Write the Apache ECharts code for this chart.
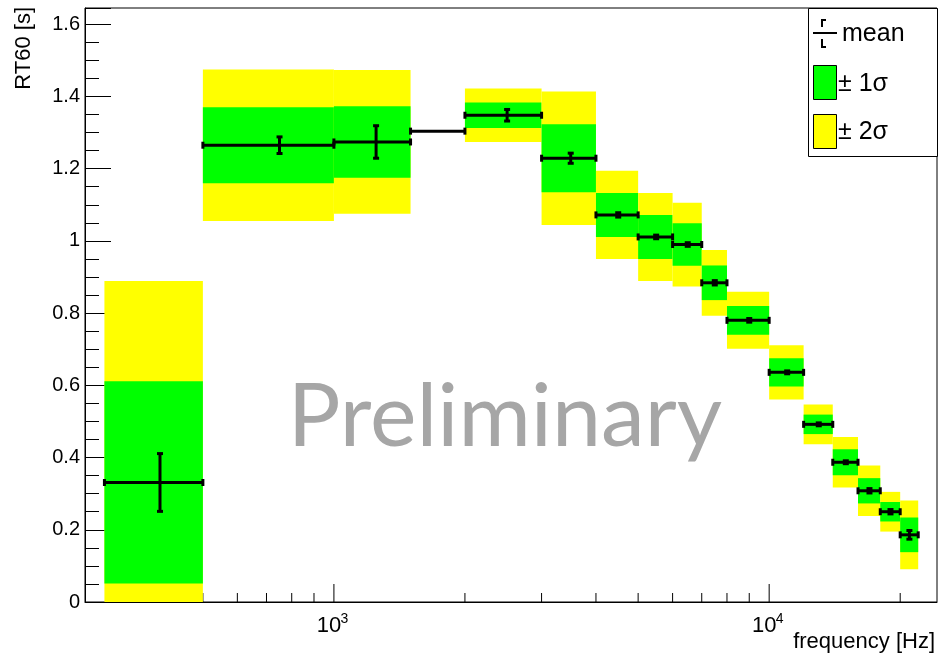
<!DOCTYPE html>
<html>
<head>
<meta charset="utf-8">
<script src="https://cdn.jsdelivr.net/npm/echarts@6/dist/echarts.min.js"></script>
<style>
  html, body { margin: 0; padding: 0; background: #ffffff; }
  #chart { width: 941px; height: 656px; }
</style>
</head>
<body>
<div id="chart"></div>
<script>
// Frequency bands (Hz): lower and upper edge of each band
const binLow  = [297, 500, 1000, 1500, 2000, 3000, 4000, 5000, 6000, 7000, 8000, 10000, 12000, 14000, 16000, 18000, 20000];
const binHigh = [500, 1000, 1500, 2000, 3000, 4000, 5000, 6000, 7000, 8000, 10000, 12000, 14000, 16000, 18000, 20000, 22000];
// Mean reverberation time per band (s), error on the mean, and the 1σ / 2σ spread
const rtMean = [0.331, 1.265, 1.274, 1.304, 1.348, 1.229, 1.072, 1.011, 0.990, 0.884, 0.780, 0.636, 0.492, 0.387, 0.308, 0.250, 0.186];
const rtErr  = [0.080, 0.023, 0.045, 0.000, 0.016, 0.014, 0.006, 0.005, 0.005, 0.006, 0.005, 0.004, 0.004, 0.004, 0.006, 0.006, 0.012];
const sigma1 = [0.280, 0.105, 0.099, 0.000, 0.035, 0.094, 0.061, 0.061, 0.059, 0.048, 0.040, 0.039, 0.027, 0.036, 0.035, 0.027, 0.048];
const sigma2 = [0.558, 0.210, 0.199, 0.000, 0.074, 0.185, 0.122, 0.122, 0.116, 0.091, 0.079, 0.075, 0.055, 0.070, 0.070, 0.055, 0.095];

// Axis ticks and labels
const xMajorTicks = [1000, 10000];
const xMajorBase = ['10', '10'];
const xMajorExp = ['3', '4'];
const xMinorTicks = [300, 400, 500, 600, 700, 800, 900, 2000, 3000, 4000, 5000, 6000, 7000, 8000, 9000, 20000];
const yTickLabels = ['0', '0.2', '0.4', '0.6', '0.8', '1', '1.2', '1.4', '1.6'];

const FONT = '"Liberation Sans", Arial, Helvetica, sans-serif';
const YELLOW = '#ffff00';
const GREEN = '#00ff00';

const bandRows = binLow.map((lo, i) => [lo, binHigh[i], rtMean[i], sigma1[i], sigma2[i]]);
const errRows = binLow.map((lo, i) => [lo, binHigh[i], rtMean[i], rtErr[i]]);

const chart = echarts.init(document.getElementById('chart'), null, { renderer: 'canvas' });

function rectBetween(api, x0, y0, x1, y1, fill) {
  const a = api.coord([x0, y0]);
  const b = api.coord([x1, y1]);
  return {
    type: 'rect',
    shape: { x: a[0], y: a[1], width: b[0] - a[0], height: b[1] - a[1] },
    style: { fill: fill, stroke: null }
  };
}

function renderBands(params, api) {
  const lo = api.value(0), hi = api.value(1), m = api.value(2), s1 = api.value(3), s2 = api.value(4);
  if (!(s2 > 0)) return null;
  return {
    type: 'group',
    children: [
      rectBetween(api, lo, m + s2, hi, m - s2, YELLOW),
      rectBetween(api, lo, m + s1, hi, m - s1, GREEN)
    ]
  };
}

function renderErrors(params, api) {
  const lo = api.value(0), hi = api.value(1), m = api.value(2), e = api.value(3);
  const c = (lo + hi) / 2;
  const pl = api.coord([lo, m]);
  const pr = api.coord([hi, m]);
  const ink = { stroke: '#000', lineWidth: 3 };
  const children = [
    { type: 'line', shape: { x1: pl[0], y1: pl[1], x2: pr[0], y2: pr[1] }, style: ink },
    { type: 'rect', shape: { x: pl[0] - 1.5, y: pl[1] - 3.5, width: 3, height: 7 }, style: { fill: '#000' } },
    { type: 'rect', shape: { x: pr[0] - 1.5, y: pr[1] - 3.5, width: 3, height: 7 }, style: { fill: '#000' } }
  ];
  if (e > 0) {
    const pt = api.coord([c, m + e]);
    const pb = api.coord([c, m - e]);
    children.push(
      { type: 'line', shape: { x1: pt[0], y1: pt[1], x2: pb[0], y2: pb[1] }, style: ink },
      { type: 'rect', shape: { x: pt[0] - 3, y: pt[1] - 1.5, width: 6, height: 3 }, style: { fill: '#000' } },
      { type: 'rect', shape: { x: pb[0] - 3, y: pb[1] - 1.5, width: 6, height: 3 }, style: { fill: '#000' } }
    );
  }
  return { type: 'group', children: children };
}

function renderMinorTick(params, api) {
  const p = api.coord([api.value(0), 0]);
  return { type: 'line', shape: { x1: p[0], y1: p[1], x2: p[0], y2: p[1] - 9 }, style: { stroke: '#000', lineWidth: 1 } };
}

function renderMajorTick(params, api) {
  const i = params.dataIndex;
  const p = api.coord([api.value(0), 0]);
  return {
    type: 'group',
    children: [
      { type: 'line', shape: { x1: p[0], y1: p[1], x2: p[0], y2: p[1] - 18 }, style: { stroke: '#000', lineWidth: 1 } },
      { type: 'text', x: p[0] - 5, y: p[1] + 13,
        style: { text: xMajorBase[i], font: '22px ' + FONT, fill: '#000', align: 'center', verticalAlign: 'top' } },
      { type: 'text', x: p[0] + 6.5, y: p[1] + 10,
        style: { text: xMajorExp[i], font: '14px ' + FONT, fill: '#000', align: 'left', verticalAlign: 'top' } }
    ]
  };
}

const option = {
  animation: false,
  backgroundColor: '#ffffff',
  grid: {
    left: 85, right: 4, top: 8, bottom: 54,
    show: true, borderColor: '#000', borderWidth: 1, backgroundColor: '#ffffff'
  },
  xAxis: {
    type: 'log', logBase: 10, min: 268, max: 24300,
    axisLine: { show: true, lineStyle: { color: '#000', width: 1 } },
    axisTick: { show: false },
    axisLabel: { show: false },
    splitLine: { show: false },
    minorTick: { show: false }
  },
  yAxis: {
    type: 'value', min: 0, max: 1.645, interval: 0.2,
    axisLine: { show: true, lineStyle: { color: '#000', width: 1 } },
    axisTick: { show: true, inside: true, length: 26, lineStyle: { color: '#000', width: 1 } },
    minorTick: { show: true, splitNumber: 4, length: 14, lineStyle: { color: '#000', width: 1 } },
    splitLine: { show: false },
    axisLabel: {
      color: '#000', fontSize: 20, fontFamily: FONT, margin: 5, showMaxLabel: false,
      formatter: v => yTickLabels[Math.round(v / 0.2)] !== undefined ? yTickLabels[Math.round(v / 0.2)] : ''
    }
  },
  series: [
    { type: 'custom', name: 'minor ticks', z: 1, clip: false, renderItem: renderMinorTick,
      data: xMinorTicks.map(v => [v]), encode: { x: 0 }, silent: true },
    { type: 'custom', name: 'major ticks', z: 1, clip: false, renderItem: renderMajorTick,
      data: xMajorTicks.map(v => [v]), encode: { x: 0 }, silent: true },
    { type: 'custom', name: '± σ', z: 2, clip: true, renderItem: renderBands,
      data: bandRows, encode: { x: [0, 1], y: [2] }, silent: true },
    { type: 'custom', name: 'mean', z: 3, clip: false, renderItem: renderErrors,
      data: errRows, encode: { x: [0, 1], y: [2] }, silent: true }
  ],
  graphic: [
    // Watermark
    { type: 'text', x: 505, y: 418, z: 50, silent: true,
      style: { text: 'Preliminary', font: '88px Lato, "Open Sans", sans-serif', fill: '#a6a6a6',
               align: 'center', verticalAlign: 'middle' } },
    // Axis titles
    { type: 'text', x: 24, y: 7, rotation: Math.PI / 2, z: 50, silent: true,
      style: { text: 'RT60 [s]', font: '22px ' + FONT, fill: '#000', align: 'right', verticalAlign: 'middle' } },
    { type: 'text', x: 935, y: 642, z: 50, silent: true,
      style: { text: 'frequency [Hz]', font: '22px ' + FONT, fill: '#000', align: 'right', verticalAlign: 'middle' } },
    // Legend box
    { type: 'group', z: 100, silent: true, children: [
      { type: 'rect', shape: { x: 808.5, y: 8.5, width: 129, height: 148 },
        style: { fill: '#ffffff', stroke: '#000', lineWidth: 1 } },
      // mean marker
      { type: 'line', shape: { x1: 813, y1: 33, x2: 837, y2: 33 }, style: { stroke: '#000', lineWidth: 2 } },
      { type: 'line', shape: { x1: 822, y1: 19, x2: 822, y2: 27 }, style: { stroke: '#000', lineWidth: 2 } },
      { type: 'line', shape: { x1: 822, y1: 20, x2: 826, y2: 20 }, style: { stroke: '#000', lineWidth: 2 } },
      { type: 'line', shape: { x1: 822, y1: 39, x2: 822, y2: 48 }, style: { stroke: '#000', lineWidth: 2 } },
      { type: 'line', shape: { x1: 822, y1: 47, x2: 826, y2: 47 }, style: { stroke: '#000', lineWidth: 2 } },
      { type: 'text', x: 842, y: 34, style: { text: 'mean', font: '25px ' + FONT, fill: '#000', align: 'left', verticalAlign: 'middle' } },
      // 1 sigma swatch
      { type: 'rect', shape: { x: 813.5, y: 65.5, width: 23, height: 34 }, style: { fill: GREEN, stroke: '#000', lineWidth: 1 } },
      { type: 'text', x: 838, y: 84, style: { text: '± 1σ', font: '25px ' + FONT, fill: '#000', align: 'left', verticalAlign: 'middle' } },
      // 2 sigma swatch
      { type: 'rect', shape: { x: 813.5, y: 114.5, width: 23, height: 34 }, style: { fill: YELLOW, stroke: '#000', lineWidth: 1 } },
      { type: 'text', x: 838, y: 132, style: { text: '± 2σ', font: '25px ' + FONT, fill: '#000', align: 'left', verticalAlign: 'middle' } }
    ] }
  ]
};

chart.setOption(option);
</script>
</body>
</html>
